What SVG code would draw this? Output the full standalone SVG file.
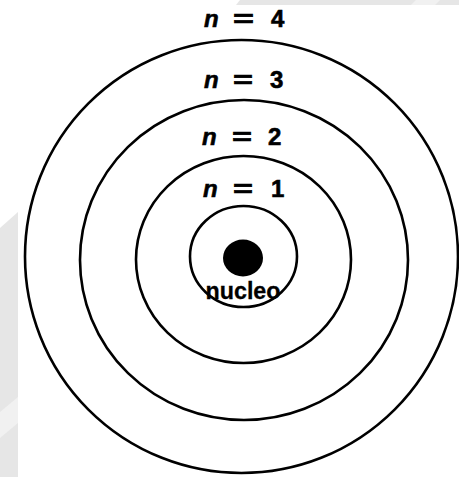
<svg xmlns="http://www.w3.org/2000/svg" width="459" height="477" viewBox="0 0 459 477">
<style>
.ring{fill:none;stroke:#000;stroke-width:2.6}
.lbl{font-family:"Liberation Sans",Arial,sans-serif;font-weight:bold;font-size:24px;fill:#000;stroke:#000;stroke-width:0.6}
.n{font-style:italic}
.wm{fill:#e6e6e6}
.wm2{fill:#f1f1f1}
</style>
<rect width="459" height="477" fill="#fff"/>
<g id="watermark">
<polygon class="wm" points="240,0 459,0 459,5 236,5"/>
<polygon class="wm2" points="416,0 440,0 435,5 411,5"/>
<polygon class="wm" points="0,228 18,212 18,477 0,477"/>
<polygon class="wm2" points="0,412 18,397 18,423 0,438"/>
</g>
<g id="rings">
<g id="ring4"><ellipse class="ring" cx="241.5" cy="256.5" rx="216.5" ry="216.5"/></g>
<g id="ring3"><ellipse class="ring" cx="244" cy="260" rx="164" ry="160"/></g>
<g id="ring2"><ellipse class="ring" cx="243.5" cy="259.5" rx="107.5" ry="103.5"/></g>
<g id="ring1"><ellipse class="ring" cx="243.5" cy="256.5" rx="53.5" ry="50.5"/></g>
</g>
<g id="nucleus">
<ellipse cx="243" cy="258" rx="20" ry="18.5" fill="#000"/>
<text class="lbl" x="243" y="299" text-anchor="middle" textLength="75" lengthAdjust="spacingAndGlyphs" style="stroke-width:0.3">nucleo</text>
</g>
<g id="labels">
<text class="lbl" y="27"><tspan class="n" x="204">n</tspan><tspan x="233" textLength="21" lengthAdjust="spacingAndGlyphs">=</tspan><tspan x="271">4</tspan></text>
<text class="lbl" y="88"><tspan class="n" x="204">n</tspan><tspan x="233" textLength="20" lengthAdjust="spacingAndGlyphs">=</tspan><tspan x="270">3</tspan></text>
<text class="lbl" y="145"><tspan class="n" x="202">n</tspan><tspan x="232" textLength="20" lengthAdjust="spacingAndGlyphs">=</tspan><tspan x="268">2</tspan></text>
<text class="lbl" y="197"><tspan class="n" x="203">n</tspan><tspan x="233" textLength="20" lengthAdjust="spacingAndGlyphs">=</tspan><tspan x="271">1</tspan></text>
</g>
</svg>
